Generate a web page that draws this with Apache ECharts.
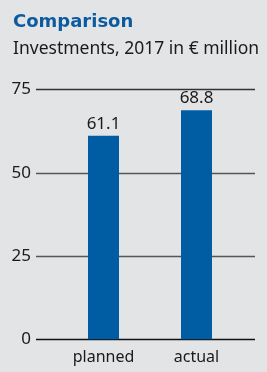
<!DOCTYPE html>
<html>
<head>
<meta charset="utf-8">
<script src="https://cdn.jsdelivr.net/npm/echarts@6/dist/echarts.min.js"></script>
<style>
  html, body { margin: 0; padding: 0; background: #e3e4e6; }
  #main { width: 267px; height: 372px; }
</style>
</head>
<body>
<div id="main"></div>
<script>
// data
var categories = ['planned', 'actual'];
var investments = [61.1, 68.8];
var yTicks = [0, 25, 50, 75];

var chart = echarts.init(document.getElementById('main'));
var font = '"Noto Sans", "DejaVu Sans", sans-serif';
var option = {
    backgroundColor: '#e3e4e6',
    animation: false,
    title: [
        {
            text: 'Comparison',
            left: 8, top: 8,
            textStyle: { fontFamily: '"DejaVu Sans", sans-serif', fontWeight: 'bold', fontSize: 18, color: '#0d5b9f' }
        },
        {
            text: 'Investments, 2017 in € million',
            left: 8, top: 35,
            textStyle: { fontFamily: font, fontWeight: 'normal', fontSize: 17.5, color: '#1a1a1a' }
        }
    ],
    grid: [
        { left: 36, right: 12, top: 89.5, bottom: 32.7 },
        { left: 57, right: 24, top: 89.5, bottom: 32.7 }
    ],
    xAxis: [
        { gridIndex: 0, type: 'category', data: categories, show: false },
        {
            gridIndex: 1, type: 'category', data: categories,
            axisLine: { show: false }, axisTick: { show: false },
            axisLabel: { fontFamily: font, fontSize: 16, color: '#1a1a1a', margin: 10 }
        }
    ],
    yAxis: [
        {
            gridIndex: 0, type: 'value', min: 0, max: 75, interval: 25,
            axisLine: { show: false }, axisTick: { show: false },
            axisLabel: {
                fontFamily: font, fontSize: 17, color: '#1a1a1a', margin: 5,
                formatter: function (v) { return yTicks.indexOf(v) >= 0 ? String(v) : ''; }
            },
            splitLine: {
                lineStyle: { color: ['#111111', '#555555', '#555555', '#333333'], width: 1.3 }
            }
        },
        { gridIndex: 1, type: 'value', min: 0, max: 75, interval: 25, show: false }
    ],
    series: [{
        type: 'bar',
        xAxisIndex: 1, yAxisIndex: 1,
        data: investments,
        barWidth: 31,
        itemStyle: { color: '#005ca3' },
        label: {
            show: true, position: 'top', distance: 3,
            fontFamily: font, fontSize: 17, color: '#1a1a1a',
            formatter: function (p) { return p.value.toFixed(1); }
        }
    }]
};
chart.setOption(option);
</script>
</body>
</html>
